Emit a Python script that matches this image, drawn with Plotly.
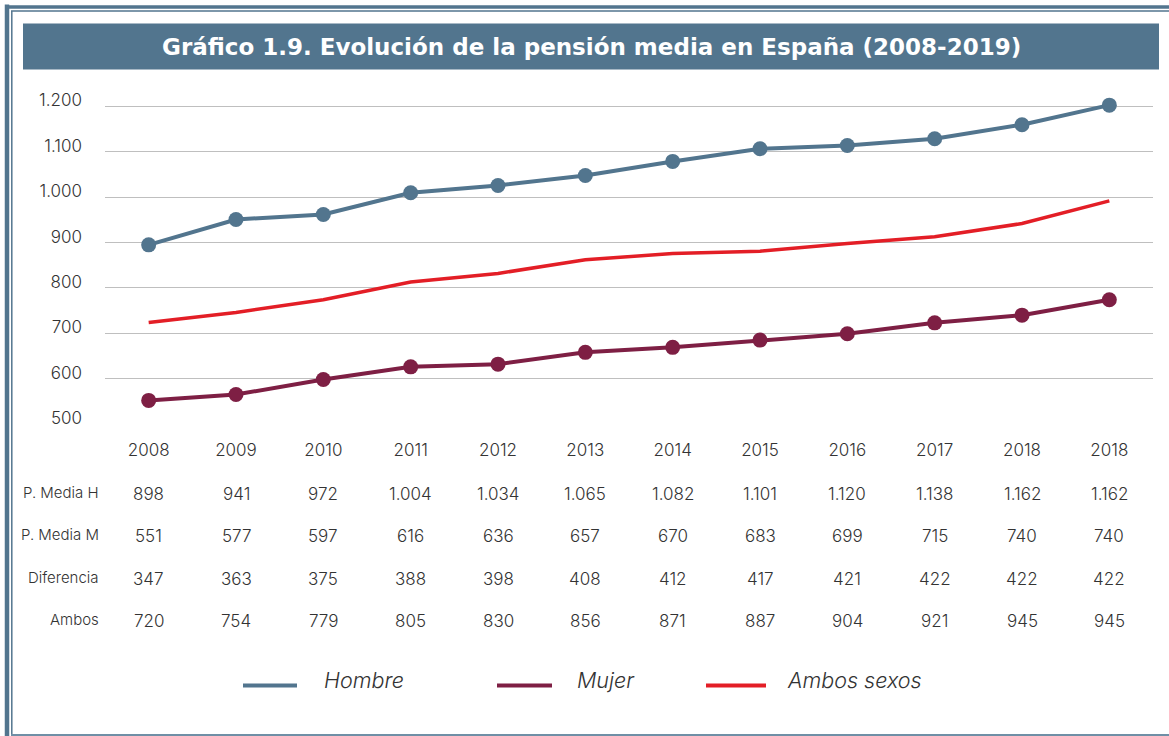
import plotly.graph_objects as go

# ---------------- data ----------------
years = ["2008", "2009", "2010", "2011", "2012", "2013",
         "2014", "2015", "2016", "2017", "2018", "2018"]
hombre = [895, 951, 962, 1010, 1026, 1048, 1079, 1107, 1114, 1129, 1160, 1203]
mujer = [552, 565, 598, 626, 632, 658, 669, 685, 699, 723, 740, 774]
ambos = [724, 746, 774, 813, 832, 862, 876, 881, 898, 913, 942, 992]

row_labels = ["P. Media H", "P. Media M", "Diferencia", "Ambos"]
tabla_h = [898, 941, 972, 1004, 1034, 1065, 1082, 1101, 1120, 1138, 1162, 1162]
tabla_m = [551, 577, 597, 616, 636, 657, 670, 683, 699, 715, 740, 740]
tabla_dif = [347, 363, 375, 388, 398, 408, 412, 417, 421, 422, 422, 422]
tabla_ambos = [720, 754, 779, 805, 830, 856, 871, 887, 904, 921, 945, 945]

y_ticks = [500, 600, 700, 800, 900, 1000, 1100, 1200]
title = "Gráfico 1.9. Evolución de la pensión media en España (2008-2019)"
legend_names = ["Hombre", "Mujer", "Ambos sexos"]

# ---------------- style ----------------
W, H = 1169, 736
L, R, B = 105, 1153, 424
Y0, Y1 = 500, 1210
PX_PER_UNIT = (424 - 107) / 700.0
T = B - (Y1 - Y0) * PX_PER_UNIT
C_H = "#52758E"
C_M = "#7E1F44"
C_A = "#E31E26"
FRAME = "#52758E"
TXT = "#333333"
FONT = "Inter"


def fx(px):
    return (px - L) / (R - L)


def fy(py):
    return (B - py) / (B - T)


def fmt(v):
    return f"{v:,}".replace(",", ".")


xs = list(range(len(years)))

fig = go.Figure()
fig.add_trace(go.Scatter(x=xs, y=hombre, mode="lines+markers", name=legend_names[0],
                         line=dict(color=C_H, width=4), marker=dict(size=15, color=C_H),
                         cliponaxis=False))
fig.add_trace(go.Scatter(x=xs, y=mujer, mode="lines+markers", name=legend_names[1],
                         line=dict(color=C_M, width=4), marker=dict(size=15, color=C_M),
                         cliponaxis=False))
fig.add_trace(go.Scatter(x=xs, y=ambos, mode="lines", name=legend_names[2],
                         line=dict(color=C_A, width=3.5), cliponaxis=False))

shapes = []
annotations = []


def pline(x0, y0, x1, y1, color, width):
    shapes.append(dict(type="line", xref="paper", yref="paper",
                       x0=fx(x0), y0=fy(y0), x1=fx(x1), y1=fy(y1),
                       line=dict(color=color, width=width), layer="above"))


# frame
pline(7, 5, 7, 736, FRAME, 4.5)
pline(5, 7.5, 1169, 7.5, FRAME, 3.5)
pline(11.8, 11.5, 11.8, 734, FRAME, 1.5)
pline(11, 11.5, 1169, 11.5, FRAME, 1.5)
pline(11, 734.5, 1169, 734.5, "#6F8FA6", 2)

# title banner
shapes.append(dict(type="rect", xref="paper", yref="paper",
                   x0=fx(23), x1=fx(1159), y0=fy(24), y1=fy(70),
                   fillcolor=FRAME, line=dict(width=0), layer="below"))
annotations.append(dict(xref="paper", yref="paper", x=fx(591), y=fy(47.5),
                        text=f"<b>{title}</b>", showarrow=False,
                        xanchor="center", yanchor="middle",
                        font=dict(family="DejaVu Sans", size=23, color="white")))

# data table below the chart
rows = [tabla_h, tabla_m, tabla_dif, tabla_ambos]
row_y = [493, 535, 578, 620]
for lbl, vals, ry in zip(row_labels, rows, row_y):
    annotations.append(dict(xref="paper", yref="paper", x=fx(101), y=fy(ry - 1),
                            text=lbl, showarrow=False, xanchor="right", yanchor="middle",
                            font=dict(family=FONT, size=15, color=TXT, weight=300)))
    for i, v in zip(xs, vals):
        annotations.append(dict(xref="x", yref="paper", x=i, y=fy(ry + 1),
                                text=fmt(v), showarrow=False,
                                xanchor="center", yanchor="middle",
                                font=dict(family=FONT, size=17, color=TXT, weight=300)))

# manual legend
leg_lines = [(243, 297), (497, 552), (706, 766)]
leg_text_x = [322, 575, 785]
for (a, b), tx, name, col in zip(leg_lines, leg_text_x, legend_names, [C_H, C_M, C_A]):
    pline(a, 685, b, 685, col, 4)
    annotations.append(dict(xref="paper", yref="paper", x=fx(tx), y=fy(680),
                            text=name, showarrow=False, xanchor="left", yanchor="middle",
                            font=dict(family=FONT, size=21.5, color=TXT, style="italic",
                                      weight=300)))

fig.update_layout(
    width=W, height=H,
    margin=dict(l=L, r=W - R, t=T, b=H - B, pad=0),
    paper_bgcolor="white", plot_bgcolor="white",
    showlegend=False,
    shapes=shapes, annotations=annotations,
    font=dict(family=FONT, color=TXT),
    xaxis=dict(range=[-0.5, len(years) - 0.5], tickmode="array", tickvals=xs,
               ticktext=years, showgrid=False, zeroline=False, showline=False,
               ticks="", tickfont=dict(family=FONT, size=17, color=TXT, weight=300),
               ticklabelstandoff=14),
    yaxis=dict(range=[Y0, Y1], tickmode="array", tickvals=y_ticks,
               ticktext=[fmt(v) for v in y_ticks], showgrid=True,
               gridcolor="#BFBFBF", gridwidth=1, zeroline=False, showline=False,
               ticks="", tickfont=dict(family=FONT, size=17, color=TXT, weight=300),
               ticklabelstandoff=22, ticklabelshift=-6),
)

fig.write_html("out.html",
               config={"displayModeBar": False},
               post_script="document.body.style.margin='0';"
                           "document.body.style.overflow='hidden';")
